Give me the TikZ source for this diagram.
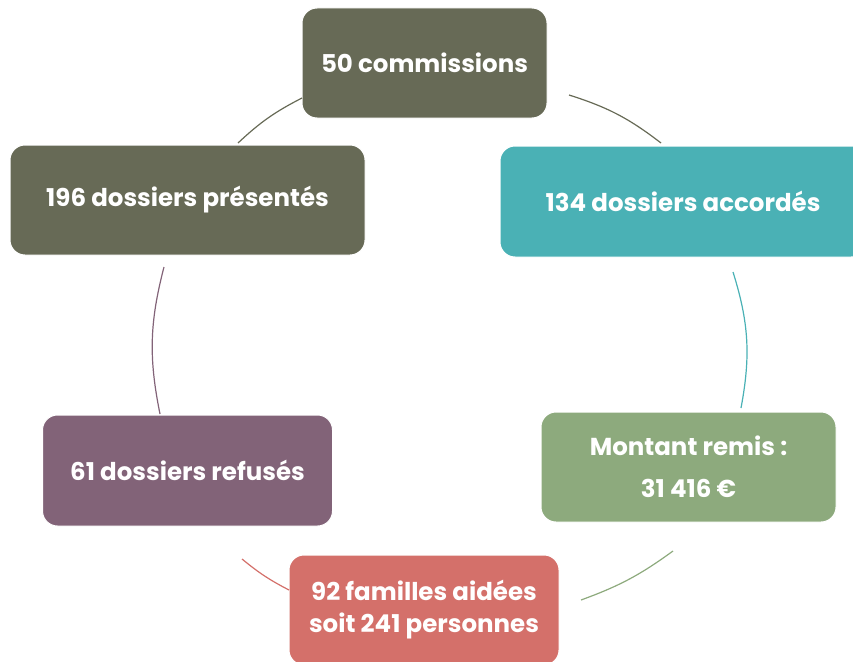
\documentclass[tikz,border=0pt]{standalone}
\usepackage{fontspec}
\setmainfont{Poppins}
\definecolor{olivegray}{HTML}{676A56}
\definecolor{tealc}{HTML}{4AB1B5}
\definecolor{greenc}{HTML}{8DAA7D}
\definecolor{salmonc}{HTML}{D4706A}
\definecolor{purplec}{HTML}{826378}
\begin{document}
\begin{tikzpicture}[x=1pt,y=-1pt,
  box/.style={rounded corners=15pt, draw=white, line width=1pt, text=white,
    font=\bfseries\fontsize{24.5}{32}\selectfont, align=center, inner sep=0pt},
  arcline/.style={line width=1.2pt}]
\useasboundingbox (0,0) rectangle (853,661);
\clip (0,0) rectangle (853,661);
\node[box, fill=olivegray, minimum width=245pt, minimum height=110pt] (comm) at (424.5,63) {50 commissions};
\node[box, fill=tealc, minimum width=366pt, minimum height=111pt] (acc) at (683,201.5) {134 dossiers accordés};
\node[box, fill=greenc, minimum width=295pt, minimum height=110pt] (mont) at (688.5,467) {Montant remis :\\[10pt]31 416 €};
\node[box, fill=salmonc, minimum width=270pt, minimum height=110pt] (fam) at (424,610) {92 familles aidées\\soit 241 personnes};
\node[box, fill=purplec, minimum width=290pt, minimum height=111pt] (ref) at (187.5,470.5) {61 dossiers refusés};
\node[box, fill=olivegray, minimum width=355pt, minimum height=110pt] (pres) at (187.5,200) {196 dossiers présentés};
\coordinate (a1s) at (569,95);  \coordinate (a1e) at (661,143);
\coordinate (a2s) at (733,272); \coordinate (a2e) at (741,408);
\coordinate (a3s) at (673,551); \coordinate (a3e) at (581,600);
\coordinate (a4s) at (289,590); \coordinate (a4e) at (242,559);
\coordinate (a5s) at (160,414); \coordinate (a5e) at (164,267);
\coordinate (a6s) at (238,143); \coordinate (a6e) at (302,98);
\draw[arcline, olivegray] (a1s) to[bend left=10] (a1e);
\draw[arcline, tealc] (a2s) to[bend left=14] (a2e);
\draw[arcline, greenc] (a3s) to[bend left=8] (a3e);
\draw[arcline, salmonc] (a4s) to[bend left=6] (a4e);
\draw[arcline, purplec] (a5s) to[bend left=13] (a5e);
\draw[arcline, olivegray] (a6s) to[bend left=8] (a6e);
\end{tikzpicture}
\end{document}
